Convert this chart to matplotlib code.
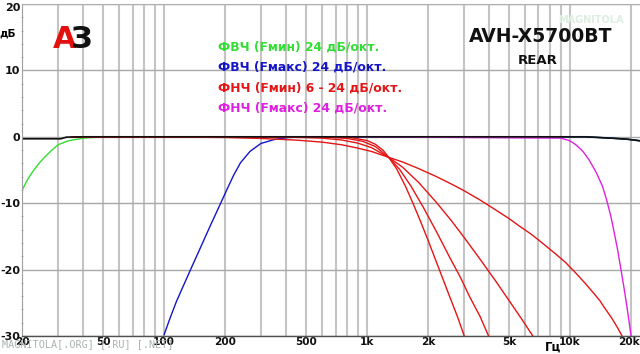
import matplotlib.pyplot as plt
import matplotlib.transforms as mtransforms
import numpy as np

# values (frequency in Hz, level in dB)
black_f = [20, 31, 33, 40, 1000, 12000, 15900, 19000, 22150]
black_db = [-0.3, -0.3, -0.05, 0, 0, 0, -0.2, -0.35, -0.6]

green_f = [20, 21, 22.2, 24, 25.9, 28, 30, 33.7, 40, 47, 60, 1000, 12000, 15900, 19000, 22150]
green_db = [-8.0, -6.7, -5.5, -4.1, -3.0, -2.0, -1.2, -0.6, -0.2, -0.05, 0, 0, 0, -0.2, -0.35, -0.6]

blue_f = [100, 107, 115, 125, 135, 150, 170, 190, 205, 220, 238, 265, 300, 350, 406, 500,
          12000, 15900, 19000, 22150]
blue_db = [-29.8, -27.3, -24.8, -22.3, -20.0, -16.9, -13.2, -10.0, -7.8, -5.8, -3.9, -2.2, -1.0, -0.4, -0.12, 0,
           0, -0.2, -0.35, -0.6]

red6_f = [35, 100, 200, 300, 450, 600, 750, 900, 1050, 1280, 1500, 1800, 2200, 2600, 3000, 3600, 4300,
          5000, 5730, 6400, 7180, 8470, 9500, 10600, 12000, 13300, 14060, 14700, 16070, 17200, 18000, 18150]
red6_db = [0, -0.03, -0.1, -0.25, -0.5, -0.8, -1.2, -1.7, -2.2, -3.1, -3.8, -4.8, -6.0, -7.1, -8.1, -9.5, -11.0,
           -12.3, -13.6, -14.6, -15.8, -17.6, -18.9, -20.4, -22.2, -23.8, -24.7, -25.6, -27.3, -28.8, -29.9, -30.2]

red12_f = [35, 200, 400, 600, 750, 900, 1050, 1280, 1500, 1800, 2200, 2600, 3000, 3600, 4300, 4970,
           5800, 6600]
red12_db = [0, -0.01, -0.04, -0.2, -0.48, -0.95, -1.62, -3.1, -4.6, -6.9, -9.9, -12.6, -15.1, -18.4, -21.7, -24.5,
            -27.5, -30.1]

red18_f = [35, 300, 500, 650, 800, 950, 1100, 1280, 1450, 1650, 1900, 2200, 2550, 2900, 3218, 3600, 3960, 4020]
red18_db = [0, 0, -0.02, -0.07, -0.25, -0.67, -1.47, -3.1, -4.93, -7.47, -10.7, -14.3, -18.1, -21.3, -24.2,
            -27.0, -29.9, -30.3]

red24_f = [35, 500, 700, 850, 1000, 1100, 1200, 1280, 1400, 1550, 1700, 1850, 2000, 2200, 2400, 2564, 2800,
           3006, 3040]
red24_db = [0, -0.01, -0.05, -0.16, -0.56, -1.13, -2.03, -3.1, -4.84, -7.5, -10.3, -13.0, -15.6, -18.9, -21.9,
            -24.2, -27.2, -29.9, -30.3]

magenta_f = [35, 1000, 9020, 10000, 10700, 11600, 12440, 13500, 14490, 15200, 15920, 16550, 17180, 17850,
             18530, 19100, 19600, 20200]
magenta_db = [0, 0, -0.2, -0.6, -1.2, -2.2, -3.5, -5.4, -7.5, -9.6, -12.0, -14.5, -17.0, -20.0,
              -23.0, -25.6, -28.0, -30.8]

grid_freqs = [20, 30, 40, 50, 60, 70, 80, 90, 100, 200, 300, 400, 500, 600, 700, 800, 900,
              1000, 2000, 3000, 4000, 5000, 6000, 7000, 8000, 9000, 10000, 20000]
xtick_freqs = [20, 50, 100, 200, 500, 1000, 2000, 5000, 10000, 20000]
xtick_labels = ['20', '50', '100', '200', '500', '1k', '2k', '5k', '10k', '20k']
ytick_vals = [-30, -20, -10, 0, 10, 20]

legend_lines = ['ФВЧ (Fмин) 24 дБ/окт.', 'ФВЧ (Fмакс) 24 дБ/окт.',
                'ФНЧ (Fмин) 6 - 24 дБ/окт.', 'ФНЧ (Fмакс) 24 дБ/окт.']
legend_colors = ['#33dd33', '#1515c8', '#e51515', '#e020e0']

fig = plt.figure(figsize=(6.4, 3.54), dpi=100)
ax = fig.add_axes([22.3 / 640, 18 / 354, (640 - 22.3) / 640, 332 / 354])
ax.set_xscale('log')
ax.set_xlim(20, 22150)
ax.set_ylim(-30, 20)

# grid
ax.set_xticks(grid_freqs, minor=True)
ax.set_xticks(xtick_freqs)
ax.set_xticklabels(xtick_labels)
ax.set_yticks(ytick_vals)
ax.set_yticklabels([str(v) for v in ytick_vals])
ax.set_yticks(np.arange(-30, 21, 2), minor=True)
ax.grid(which='both', axis='x', color='#c4c4c4', lw=1.5)
ax.grid(which='major', axis='y', color='#a8a8a8', lw=1.0)
ax.tick_params(axis='x', which='both', length=0, pad=1, labelsize=7.6)
ax.tick_params(axis='y', which='major', length=0, pad=1.5, labelsize=8)
ax.tick_params(axis='y', which='minor', length=2, width=0.6, color='#a0a0a0', direction='inout')
for lab in ax.get_xticklabels() + ax.get_yticklabels():
    lab.set_fontweight('bold')
    lab.set_color('#111111')

# keep the edge labels inside the picture
xl = ax.get_xticklabels()[-1]
xl.set_transform(xl.get_transform() + mtransforms.ScaledTranslation(-2.5 / 100, 0, fig.dpi_scale_trans))
yl = ax.get_yticklabels()[-1]
yl.set_transform(yl.get_transform() + mtransforms.ScaledTranslation(0, -3 / 100, fig.dpi_scale_trans))

ax.spines['top'].set_color('#b0b0b0')
ax.spines['right'].set_visible(False)
ax.spines['left'].set_color('#a0a0a0')
ax.spines['left'].set_linewidth(0.8)
ax.spines['bottom'].set_color('#505050')
ax.spines['bottom'].set_linewidth(1.0)

# curves
ax.plot(green_f, green_db, color='#33dd33', lw=1.0)
ax.plot(blue_f, blue_db, color='#1515c8', lw=1.0)
ax.plot(magenta_f, magenta_db, color='#e020e0', lw=1.0)
for f, d in [(red6_f, red6_db), (red12_f, red12_db), (red18_f, red18_db), (red24_f, red24_db)]:
    ax.plot(f, d, color='#e51515', lw=1.0)
ax.plot(black_f, black_db, color='#111111', lw=1.2)

# texts
fig.text(8 / 640, 1 - 33 / 354, 'дБ', fontsize=7.5, fontweight='bold', ha='center', va='center')
fig.text(553 / 640, 1 - 347 / 354, 'Гц', fontsize=8.5, fontweight='bold', ha='center', va='center')
fig.text(53 / 640, 1 - 39 / 354, 'А', fontsize=22, fontweight='heavy', color='#e31010', ha='left', va='center')
fig.text(71 / 640, 1 - 39 / 354, 'З', fontsize=22, fontweight='heavy', color='#111111', ha='left', va='center')
for i, (txt, col) in enumerate(zip(legend_lines, legend_colors)):
    fig.text(218 / 640, 1 - (47 + 20.5 * i) / 354, txt, fontsize=8.9, fontweight='bold', color=col,
             ha='left', va='center')
fig.text(591 / 640, 1 - 20 / 354, 'MAGNITOLA', fontsize=7, fontweight='bold', color='#dcefe0',
         ha='center', va='center')
fig.text(541 / 640, 1 - 37 / 354, 'AVH-X5700BT', fontsize=13.5, fontweight='bold', color='#111111',
         ha='center', va='center')
fig.text(538 / 640, 1 - 60 / 354, 'REAR', fontsize=9.5, fontweight='bold', color='#111111',
         ha='center', va='center')
fig.text(2 / 640, 1 - 344 / 354, 'MAGNITOLA[.ORG] [.RU] [.NET]', fontsize=7.3, family='DejaVu Sans Mono',
         color='#a9b1b1', ha='left', va='center')

fig.savefig('out.png', dpi=100)
